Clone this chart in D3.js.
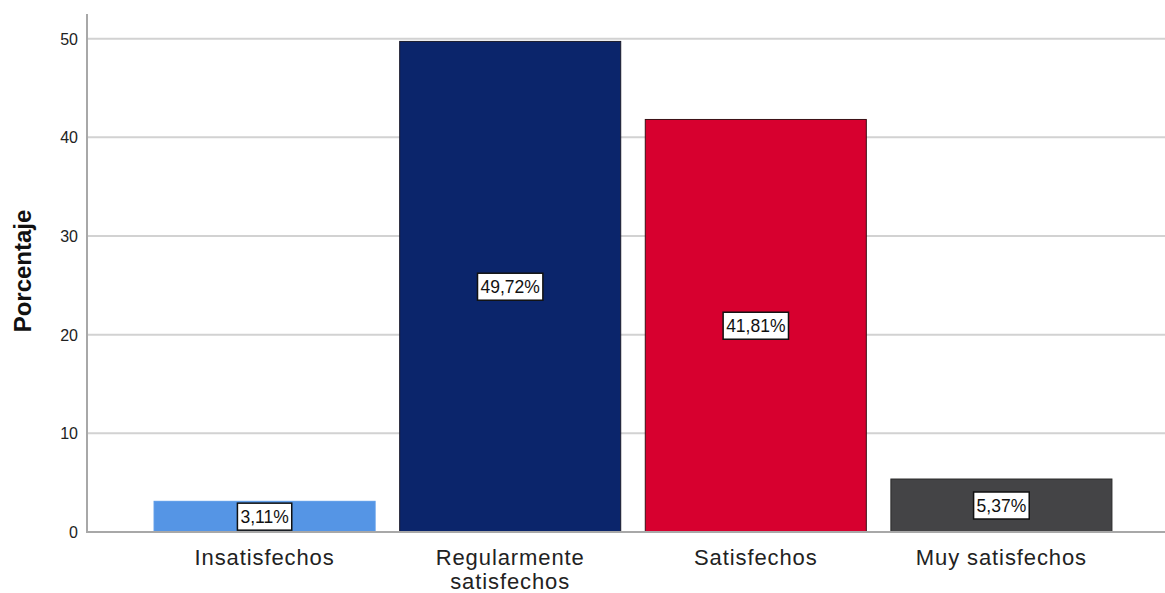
<!DOCTYPE html>
<html><head><meta charset="utf-8">
<script src="https://cdn.jsdelivr.net/npm/d3@7"></script>
<style>body{margin:0;background:#fff}svg{display:block}</style>
</head><body>
<script>
const categories = ["Insatisfechos", "Regularmente satisfechos", "Satisfechos", "Muy satisfechos"];
const labelLines = [["Insatisfechos"], ["Regularmente", "satisfechos"], ["Satisfechos"], ["Muy satisfechos"]];
const values = [3.11, 49.72, 41.81, 5.37];
const valueLabels = ["3,11%", "49,72%", "41,81%", "5,37%"];
const yTicks = [0, 10, 20, 30, 40, 50];
const colors = ["#5595e5", "#0b256b", "#d7002f", "#444446"];
const strokes = ["#5a9ae8", "#1a1a2a", "#3a1015", "#2a2a2a"];

const W = 1165, H = 593;
const svg = d3.select("body").append("svg").attr("width", W).attr("height", H);
const x = d3.scaleBand().domain(categories).range([129.5, 1136.5]).paddingInner(0.1).paddingOuter(0.1);
const y = d3.scaleLinear().domain([0, 52.5]).range([532, 14]);
const font = "'Liberation Sans', Arial, sans-serif";

// gridlines
svg.append("g").selectAll("line").data(yTicks.filter(d => d > 0)).join("line")
  .attr("x1", 88).attr("x2", W).attr("y1", d => y(d)).attr("y2", d => y(d))
  .attr("stroke", "#d2d2d2").attr("stroke-width", 2);

// bars
svg.append("g").selectAll("rect").data(values).join("rect")
  .attr("x", (d, i) => x(categories[i])).attr("width", x.bandwidth())
  .attr("y", d => y(d)).attr("height", d => y(0) - y(d))
  .attr("fill", (d, i) => colors[i]).attr("stroke", (d, i) => strokes[i]).attr("stroke-width", 1);

// baseline and y axis line
svg.append("line").attr("x1", 87).attr("x2", W).attr("y1", y(0)).attr("y2", y(0))
  .attr("stroke", "#a8a8a8").attr("stroke-width", 2);
svg.append("line").attr("x1", 87).attr("x2", 87).attr("y1", 14).attr("y2", y(0) + 1)
  .attr("stroke", "#a8a8a8").attr("stroke-width", 2);

// y ticks
const yAxis = d3.axisLeft(y).tickValues(yTicks).tickSize(0).tickPadding(0);
const ga = svg.append("g").attr("transform", "translate(78,0)").call(yAxis);
ga.select(".domain").remove();
ga.selectAll("text").attr("font-family", font).attr("font-size", 16).attr("fill", "#222").attr("dy", "0.35em").attr("x", 0);

// y title
svg.append("text").attr("transform", "translate(31,271) rotate(-90)").attr("text-anchor", "middle")
  .attr("font-family", font).attr("font-weight", "bold").attr("font-size", 24).attr("fill", "#111").text("Porcentaje");

// category labels
const cl = svg.append("g").selectAll("text").data(categories).join("text")
  .attr("text-anchor", "middle").attr("font-family", font).attr("font-size", 22).attr("letter-spacing", 0.9)
  .attr("fill", "#222")
  .attr("x", d => x(d) + x.bandwidth() / 2).attr("y", 565);
cl.selectAll("tspan").data((d, i) => labelLines[i]).join("tspan")
  .attr("x", function() { return d3.select(this.parentNode).attr("x"); })
  .attr("dy", (d, j) => j === 0 ? 0 : 24).text(d => d);

// value labels
const vl = svg.append("g").selectAll("g").data(values).join("g")
  .attr("transform", (d, i) => `translate(${x(categories[i]) + x.bandwidth() / 2},${(y(d) + y(0)) / 2})`);
vl.append("text").attr("text-anchor", "middle").attr("dy", "0.36em")
  .attr("font-family", font).attr("font-size", 17.5).attr("fill", "#111").text((d, i) => valueLabels[i]);
vl.each(function() {
  const g = d3.select(this);
  const b = g.select("text").node().getBBox();
  g.insert("rect", "text").attr("x", b.x - 3).attr("y", -13.5).attr("width", b.width + 6).attr("height", 27)
    .attr("fill", "#fff").attr("stroke", "#111").attr("stroke-width", 1.5);
});
</script>
</body></html>
